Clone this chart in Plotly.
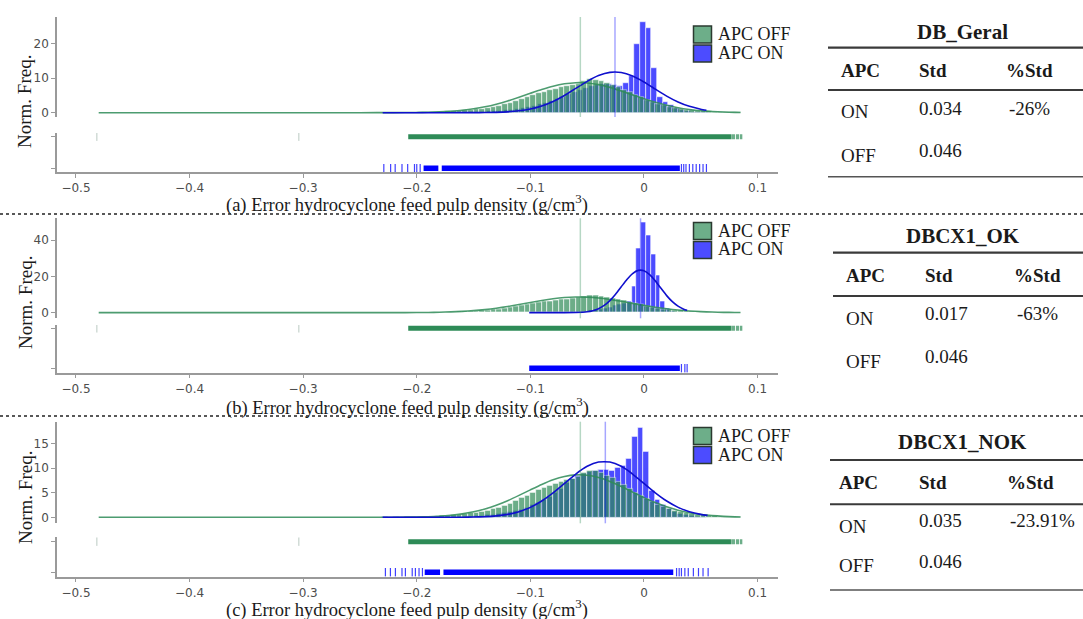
import plotly.graph_objects as go

W, H = 1083, 619


def px(x):
    return x / W


def py(y):
    return 1 - y / H


# ---------------- data ----------------
tick_vals_x = [-0.5, -0.4, -0.3, -0.2, -0.1, 0.0, 0.1]

# APC OFF histogram (same data in all three panels), bin width 0.005
off_bins = [-0.2075, -0.2025, -0.1975, -0.1925, -0.1875, -0.1825, -0.1775, -0.1725, -0.1675, -0.1625,
            -0.1575, -0.1525, -0.1475, -0.1425, -0.1375, -0.1325, -0.1275, -0.1225, -0.1175, -0.1125,
            -0.1075, -0.1025, -0.0975, -0.0925, -0.0875, -0.0825, -0.0775, -0.0725, -0.0675, -0.0625,
            -0.0575, -0.0525, -0.0475, -0.0425, -0.0375, -0.0325, -0.0275, -0.0225, -0.0175, -0.0125,
            -0.0075, -0.0025, 0.0025, 0.0075, 0.0125, 0.0175, 0.0225, 0.0275, 0.0325, 0.0375,
            0.0425, 0.0475, 0.0525, 0.0575, 0.0625, 0.0675, 0.0725, 0.0775, 0.0825]
off_freq = [0.05, 0.05, 0.1, 0.1, 0.15, 0.2, 0.25, 0.35, 0.45, 0.55,
            0.7, 0.85, 1.0, 1.2, 1.4, 1.7, 2.0, 2.4, 2.8, 3.3,
            3.9, 4.5, 5.0, 5.6, 6.0, 6.5, 6.9, 7.3, 7.6, 7.9,
            8.3, 9.0, 9.6, 9.5, 9.0, 8.5, 8.0, 7.3, 6.6, 5.9,
            5.1, 4.4, 3.7, 3.1, 2.6, 2.1, 1.7, 1.4, 1.1, 0.9,
            0.7, 0.55, 0.45, 0.35, 0.25, 0.2, 0.15, 0.1, 0.08]
off_bin_width = 0.005
off_mean = -0.056
curve_off_x = [-0.48, -0.3, -0.25, -0.22, -0.2, -0.19, -0.18, -0.17, -0.16, -0.15, -0.14, -0.13,
               -0.12, -0.11, -0.1, -0.09, -0.08, -0.07, -0.06, -0.05, -0.04, -0.03, -0.02, -0.01,
               0.0, 0.01, 0.02, 0.03, 0.04, 0.05, 0.06, 0.07, 0.08, 0.085]
curve_off_y = [0, 0, 0, 0.02, 0.07, 0.13, 0.24, 0.43, 0.71, 1.12, 1.70, 2.46,
               3.39, 4.47, 5.60, 6.70, 7.65, 8.33, 8.65, 8.57, 8.10, 7.30, 6.28, 5.14,
               4.02, 3.00, 2.14, 1.45, 0.94, 0.58, 0.34, 0.19, 0.10, 0.07]
off_rug_ticks = [-0.4816, -0.3038]
off_rug_dense = [[-0.2075, 0.0766]]
off_rug_tail = [[0.0768, 0.0802], [0.0810, 0.0838], [0.0845, 0.0866]]

# (a) DB_Geral - APC ON
on_a_bins = [-0.226, -0.221, -0.216, -0.211, -0.206, -0.201, -0.196, -0.191, -0.186, -0.181,
             -0.176, -0.171, -0.166, -0.161, -0.156, -0.151, -0.146, -0.141, -0.136, -0.131,
             -0.126, -0.121, -0.116, -0.111, -0.106, -0.101, -0.096, -0.091, -0.086, -0.081,
             -0.076, -0.071, -0.066, -0.061, -0.056, -0.051, -0.046, -0.041, -0.036, -0.031,
             -0.026, -0.021, -0.016, -0.011, -0.006, -0.001, 0.004, 0.009, 0.014, 0.019,
             0.024, 0.029, 0.034, 0.039, 0.044, 0.049, 0.054]
on_a_freq = [0.04, 0, 0.04, 0, 0.04, 0.04, 0.06, 0.06, 0.08, 0.08,
             0.1, 0.1, 0.12, 0.14, 0.16, 0.2, 0.24, 0.3, 0.36, 0.45,
             0.55, 0.7, 0.85, 1.05, 1.3, 1.6, 2.0, 2.4, 2.9, 3.4,
             4.0, 4.6, 5.3, 6.0, 6.6, 7.2, 7.7, 8.0, 8.2, 8.2,
             8.0, 7.8, 8.6, 10.5, 19.9, 26.2, 24.3, 12.9, 4.4, 3.0,
             2.1, 1.4, 0.9, 0.55, 0.3, 0.15, 0.06]
on_a_mean = -0.0255
curve_on_a_x = [-0.23, -0.2, -0.18, -0.16, -0.15, -0.14, -0.13, -0.12, -0.11, -0.1, -0.09, -0.08, -0.07,
                -0.06, -0.05, -0.04, -0.03, -0.02, -0.01, 0.0, 0.01, 0.02, 0.03, 0.04, 0.05, 0.055]
curve_on_a_y = [0, 0, 0, 0.01, 0.01, 0.04, 0.10, 0.25, 0.54, 1.06, 1.94, 3.25, 4.98,
                7.01, 9.04, 10.71, 11.63, 11.58, 10.57, 8.86, 6.80, 4.79, 3.10, 1.83, 1.00, 0.71]
on_a_rug_ticks = [-0.229, -0.223, -0.219, -0.213, -0.208, -0.202, -0.200, -0.197,
                  0.033, 0.035, 0.037, 0.040, 0.043, 0.046, 0.049, 0.052, 0.055]
on_a_rug_dense = [[-0.194, -0.181], [-0.178, 0.0316]]

# (b) DBCX1_OK - APC ON
on_b_bins = [-0.1011, -0.0969, -0.0927, -0.0885, -0.0843, -0.0801, -0.0759, -0.0717, -0.0675, -0.0633,
             -0.0591, -0.0549, -0.0507, -0.0465, -0.0423, -0.0381, -0.0339, -0.0297, -0.0255, -0.0213,
             -0.0171, -0.0129, -0.0087, -0.0045, -0.0003, 0.0039, 0.0081, 0.0123, 0.0165, 0.0207,
             0.0249, 0.0291, 0.0333]
on_b_freq = [0.1, 0.1, 0.15, 0.15, 0.2, 0.25, 0.3, 0.35, 0.45, 0.55,
             0.7, 0.85, 1.0, 1.3, 1.6, 2.0, 2.6, 3.2, 3.9, 4.6,
             5.4, 6.5, 14.5, 35.5, 49.8, 42.8, 32.0, 20.5, 6.1, 2.5,
             1.0, 0.4, 0.15]
on_b_mean = -0.003
curve_on_b_x = [-0.101, -0.08, -0.07, -0.06, -0.05, -0.045, -0.04, -0.035, -0.03, -0.025, -0.02, -0.015,
                -0.01, -0.005, 0.0, 0.005, 0.01, 0.015, 0.02, 0.025, 0.03, 0.035, 0.038]
curve_on_b_y = [0, 0, 0.01, 0.09, 0.51, 1.11, 2.20, 3.99, 6.65, 10.16, 14.24, 18.30,
                21.57, 23.31, 23.11, 21.01, 17.52, 13.40, 9.40, 6.05, 3.57, 1.93, 1.28]
on_b_rug_ticks = [0.033, 0.036, 0.038]
on_b_rug_dense = [[-0.101, 0.0316]]

# (c) DBCX1_NOK - APC ON
on_c_bins = [-0.228, -0.223, -0.218, -0.213, -0.208, -0.203, -0.198, -0.193, -0.188, -0.183,
             -0.178, -0.173, -0.168, -0.163, -0.158, -0.153, -0.148, -0.143, -0.138, -0.133,
             -0.128, -0.123, -0.118, -0.113, -0.108, -0.103, -0.098, -0.093, -0.088, -0.083,
             -0.078, -0.073, -0.068, -0.063, -0.058, -0.053, -0.048, -0.043, -0.038, -0.033,
             -0.028, -0.023, -0.018, -0.013, -0.008, -0.003, 0.002, 0.007, 0.012, 0.017,
             0.022, 0.027, 0.032, 0.037, 0.042, 0.047, 0.052]
on_c_freq = [0.03, 0, 0.03, 0, 0.03, 0.03, 0.05, 0.05, 0.07, 0.08,
             0.1, 0.1, 0.12, 0.15, 0.18, 0.22, 0.28, 0.35, 0.45, 0.55,
             0.7, 0.85, 1.05, 1.3, 1.6, 2.0, 2.5, 3.0, 3.6, 4.3,
             5.0, 5.8, 7.0, 7.8, 8.4, 8.9, 9.3, 9.5, 9.8, 9.7,
             9.6, 10.2, 10.6, 12.0, 16.5, 18.2, 13.3, 5.5, 3.5, 2.6,
             1.8, 1.2, 0.8, 0.5, 0.3, 0.15, 0.06]
on_c_mean = -0.034
curve_on_c_x = [-0.23, -0.2, -0.18, -0.16, -0.15, -0.14, -0.13, -0.12, -0.11, -0.1, -0.09, -0.08, -0.07,
                -0.06, -0.05, -0.04, -0.03, -0.02, -0.01, 0.0, 0.01, 0.02, 0.03, 0.04, 0.05, 0.056]
curve_on_c_y = [0, 0, 0, 0.02, 0.05, 0.13, 0.29, 0.60, 1.15, 2.03, 3.32, 4.99, 6.91,
                8.83, 10.40, 11.28, 11.28, 10.40, 8.83, 6.91, 4.99, 3.32, 2.03, 1.15, 0.60, 0.40]
on_c_rug_ticks = [-0.2276, -0.2232, -0.2188, -0.213, -0.210, -0.204, -0.2012, -0.198, -0.195,
                  0.0287, 0.031, 0.033, 0.036, 0.039, 0.0435, 0.048, 0.052, 0.0565]
on_c_rug_dense = [[-0.193, -0.1795], [-0.1765, 0.0258]]

panel_letters = ["a", "b", "c"]
table_names = ["DB_Geral", "DBCX1_OK", "DBCX1_NOK"]
std_on = ["0.034", "0.017", "0.035"]
std_off = ["0.046", "0.046", "0.046"]
pct_std = ["-26%", "-63%", "-23.91%"]

# ---------------- styling ----------------
GREEN = "rgb(46,139,87)"
BLUE = "rgb(0,0,255)"
AXIS = "#9a9a9a"
TICKFONT = dict(family="DejaVu Sans", size=12, color="#4d4d4d")
SERIF = "Liberation Serif"

panels = [
    dict(bins=on_a_bins, freq=on_a_freq, width=0.005, cx=curve_on_a_x, cy=curve_on_a_y, mean=on_a_mean,
         ticks=on_a_rug_ticks, dense=on_a_rug_dense,
         hist_px=(17, 117), hist_range=[-1.24, 27.6], yticks=[0, 10, 20],
         rug_px=(133, 172.3), rug_range=[-0.127, 1.117],
         title_y=203, ylab_y=102, leg_top=26),
    dict(bins=on_b_bins, freq=on_b_freq, width=0.0042, cx=curve_on_b_x, cy=curve_on_b_y, mean=on_b_mean,
         ticks=on_b_rug_ticks, dense=on_b_rug_dense,
         hist_px=(218.3, 318.3), hist_range=[-3.1, 52.0], yticks=[0, 20, 40],
         rug_px=(325, 372.7), rug_range=[-0.11, 1.083],
         title_y=406, ylab_y=303, leg_top=222.5),
    dict(bins=on_c_bins, freq=on_c_freq, width=0.005, cx=curve_on_c_x, cy=curve_on_c_y, mean=on_c_mean,
         ticks=on_c_rug_ticks, dense=on_c_rug_dense,
         hist_px=(421.7, 523.3), hist_range=[-1.22, 19.5], yticks=[0, 5, 10, 15],
         rug_px=(536.7, 576.7), rug_range=[-0.144, 1.163],
         title_y=608.5, ylab_y=498, leg_top=427.5),
]


def seg_xy(segments, yval):
    xs, ys = [], []
    for s, e in segments:
        xs += [s, e, None]
        ys += [yval, yval, None]
    return xs, ys


fig = go.Figure()
shapes = []
annotations = []
layout_axes = {}

for i, p in enumerate(panels, start=1):
    xa = "x" if i == 1 else f"x{i}"
    yh = "y" if i == 1 else f"y{2 * i - 1}"
    yr = f"y{2 * i}"

    # histograms (ON drawn first so OFF overlays it)
    fig.add_trace(go.Bar(x=p["bins"], y=p["freq"], width=p["width"], xaxis=xa, yaxis=yh,
                         marker=dict(color=BLUE, line=dict(color="white", width=0.6)),
                         opacity=0.7, name="APC ON", showlegend=False))
    fig.add_trace(go.Bar(x=off_bins, y=off_freq, width=off_bin_width, xaxis=xa, yaxis=yh,
                         marker=dict(color=GREEN, line=dict(color="white", width=0.6)),
                         opacity=0.7, name="APC OFF", showlegend=False))
    # fitted curves
    fig.add_trace(go.Scatter(x=curve_off_x, y=curve_off_y, mode="lines", xaxis=xa, yaxis=yh,
                             line=dict(color="rgba(46,139,87,0.85)", width=1.6, shape="spline", smoothing=0.5),
                             showlegend=False, hoverinfo="skip"))
    fig.add_trace(go.Scatter(x=p["cx"], y=p["cy"], mode="lines", xaxis=xa, yaxis=yh,
                             line=dict(color="rgb(15,15,205)", width=1.6, shape="spline", smoothing=0.5),
                             showlegend=False, hoverinfo="skip"))
    # rug plots
    gx, gy = seg_xy(off_rug_dense, 1)
    fig.add_trace(go.Scatter(x=gx, y=gy, mode="lines", xaxis=xa, yaxis=yr,
                             line=dict(color=GREEN, width=5), showlegend=False, hoverinfo="skip"))
    tx, ty = seg_xy(off_rug_tail, 1)
    fig.add_trace(go.Scatter(x=tx, y=ty, mode="lines", xaxis=xa, yaxis=yr,
                             line=dict(color="rgba(46,139,87,0.7)", width=5), showlegend=False, hoverinfo="skip"))
    fig.add_trace(go.Scatter(x=off_rug_ticks, y=[1] * len(off_rug_ticks), mode="markers", xaxis=xa, yaxis=yr,
                             marker=dict(symbol="line-ns-open", size=6, color="rgba(120,150,135,0.5)",
                                         line=dict(width=1)),
                             showlegend=False, hoverinfo="skip"))
    bx, by = seg_xy(p["dense"], 0)
    fig.add_trace(go.Scatter(x=bx, y=by, mode="lines", xaxis=xa, yaxis=yr,
                             line=dict(color=BLUE, width=5.5), showlegend=False, hoverinfo="skip"))
    fig.add_trace(go.Scatter(x=p["ticks"], y=[0] * len(p["ticks"]), mode="markers", xaxis=xa, yaxis=yr,
                             marker=dict(symbol="line-ns-open", size=6, color="rgba(0,0,255,0.75)",
                                         line=dict(width=1.2)),
                             showlegend=False, hoverinfo="skip"))

    # axes
    xkey = "xaxis" if i == 1 else f"xaxis{i}"
    yhkey = "yaxis" if i == 1 else f"yaxis{2 * i - 1}"
    yrkey = f"yaxis{2 * i}"
    layout_axes[xkey] = dict(domain=[px(57), px(778)], range=[-0.5167, 0.118], anchor=yr,
                             showline=True, linecolor=AXIS, linewidth=1.5, ticks="outside", ticklen=4,
                             tickcolor=AXIS, tickvals=tick_vals_x, tickfont=TICKFONT,
                             showgrid=False, zeroline=False, automargin=False)
    layout_axes[yhkey] = dict(domain=[py(p["hist_px"][1]), py(p["hist_px"][0])], range=p["hist_range"],
                              anchor=xa, showline=True, linecolor=AXIS, linewidth=1.5, ticks="outside",
                              ticklen=4, tickcolor=AXIS, tickvals=p["yticks"], tickfont=TICKFONT,
                              showgrid=False, zeroline=False, automargin=False)
    layout_axes[yrkey] = dict(domain=[py(p["rug_px"][1]), py(p["rug_px"][0])], range=p["rug_range"],
                              anchor=xa, showline=True, linecolor=AXIS, linewidth=1.5, ticks="outside",
                              ticklen=4, tickcolor=AXIS, tickvals=[0, 1], showticklabels=False,
                              showgrid=False, zeroline=False, automargin=False)

    # mean lines
    shapes.append(dict(type="line", xref=xa, yref=f"{yh} domain", x0=off_mean, x1=off_mean, y0=0, y1=1,
                       line=dict(color="rgba(46,139,87,0.35)", width=1.5), layer="above"))
    shapes.append(dict(type="line", xref=xa, yref=f"{yh} domain", x0=p["mean"], x1=p["mean"], y0=0, y1=1,
                       line=dict(color="rgba(0,0,255,0.35)", width=1.5), layer="above"))

    # axis titles
    annotations.append(dict(text=f"({panel_letters[i - 1]}) Error hydrocyclone feed pulp density (g/cm<sup>3</sup>)",
                            x=px(407), y=py(p["title_y"]), xref="paper", yref="paper", showarrow=False,
                            xanchor="center", yanchor="middle",
                            font=dict(family=SERIF, size=18.5, color="#1a1a1a")))
    annotations.append(dict(text="Norm. Freq.", x=px(25), y=py(p["ylab_y"]), xref="paper", yref="paper",
                            showarrow=False, textangle=-90, xanchor="center", yanchor="middle",
                            font=dict(family=SERIF, size=19, color="#1a1a1a")))

    # legend (drawn)
    lt = p["leg_top"]
    for k, (lab, col) in enumerate([("APC OFF", "rgb(109,174,137)"), ("APC ON", "rgb(76,76,255)")]):
        t = lt + k * 19
        shapes.append(dict(type="rect", xref="paper", yref="paper", x0=px(693.5), x1=px(711.5),
                           y0=py(t + 17), y1=py(t), fillcolor=col, line=dict(color="#2b3a30", width=1.5)))
        annotations.append(dict(text=lab, x=px(716), y=py(t + 8), xref="paper", yref="paper",
                                showarrow=False, xanchor="left", yanchor="middle",
                                font=dict(family=SERIF, size=18, color="#1a1a1a")))

# separators
for sy in [214, 416]:
    shapes.append(dict(type="line", xref="paper", yref="paper", x0=0, x1=1, y0=py(sy), y1=py(sy),
                       line=dict(color="#222", width=1.3, dash="dot")))

# tables
tables = [
    dict(tx=962, ty=31.7, top=47.7, x0=828, hy=70, cols=[839, 917, 1004], mid=90,
         on_y=111.7, on_v=108.3, off_y=155, off_v=150.7, bottom=176.7),
    dict(tx=962.5, ty=236, top=252.7, x0=833, hy=275, cols=[844, 923, 1012], mid=296,
         on_y=318.3, on_v=313, off_y=361.7, off_v=356.7, bottom=None),
    dict(tx=962, ty=441.7, top=460, x0=830, hy=482.7, cols=[837, 917, 1005], mid=504.3,
         on_y=526.7, on_v=520, off_y=565, off_v=561.7, bottom=590),
]
for j, t in enumerate(tables):
    def txt(s, x, y, size=19, bold=False, anchor="left"):
        annotations.append(dict(text=f"<b>{s}</b>" if bold else s, x=px(x), y=py(y), xref="paper",
                                yref="paper", showarrow=False, xanchor=anchor, yanchor="middle",
                                font=dict(family=SERIF, size=size, color="#1a1a1a")))
    txt(table_names[j], t["tx"], t["ty"], size=21, bold=True, anchor="center")
    c1, c2, c3 = t["cols"]
    txt("APC", c1, t["hy"], bold=True)
    txt("Std", c2, t["hy"], bold=True)
    txt("%Std", c3, t["hy"], bold=True)
    txt("ON", c1, t["on_y"])
    txt(std_on[j], c2, t["on_v"])
    txt(pct_std[j], c3 + 3, t["on_v"])
    txt("OFF", c1, t["off_y"])
    txt(std_off[j], c2, t["off_v"])
    for ly, wdt, colr in [(t["top"], 2.2, "#3a3a3a"), (t["mid"], 2.0, "#3a3a3a"), (t["bottom"], 1.5, "#555")]:
        if ly is None:
            continue
        shapes.append(dict(type="line", xref="paper", yref="paper", x0=px(t["x0"]), x1=1,
                           y0=py(ly), y1=py(ly), line=dict(color=colr, width=wdt)))

fig.update_layout(
    width=W, height=H, autosize=False,
    margin=dict(l=0, r=0, t=0, b=0),
    template="none",
    paper_bgcolor="white", plot_bgcolor="white",
    barmode="overlay", bargap=0,
    showlegend=False,
    shapes=shapes, annotations=annotations,
    **layout_axes,
)

fig.write_html("out.html", config={"displayModeBar": False},
               post_script="document.body.style.margin='0';")
